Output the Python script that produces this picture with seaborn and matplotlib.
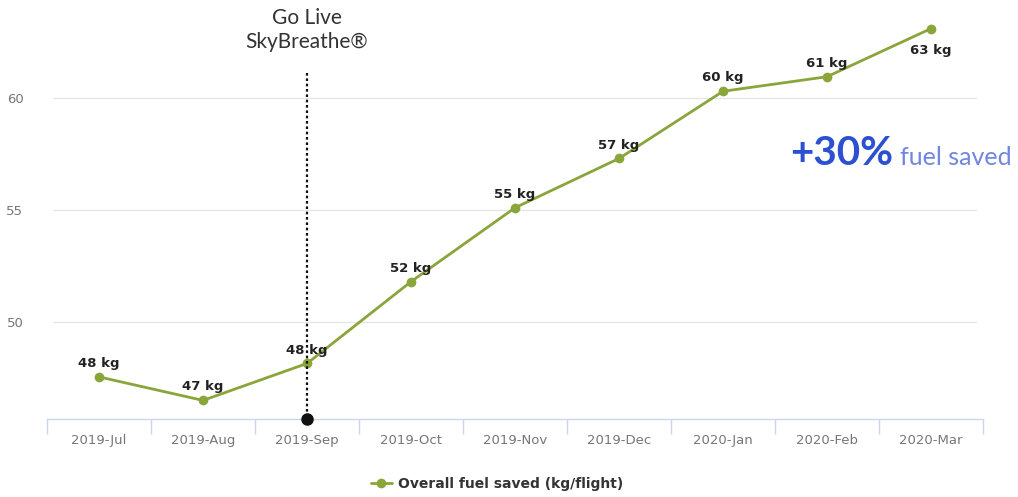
import matplotlib
matplotlib.use("Agg")
import matplotlib.pyplot as plt
import seaborn as sns
import pandas as pd
import numpy as np

months = ["2019-Jul", "2019-Aug", "2019-Sep", "2019-Oct", "2019-Nov",
          "2019-Dec", "2020-Jan", "2020-Feb", "2020-Mar"]
fuel_saved = [47.55, 46.5, 48.15, 51.8, 55.1, 57.3, 60.3, 60.95, 63.1]
point_labels = ["48 kg", "47 kg", "48 kg", "52 kg", "55 kg", "57 kg", "60 kg", "61 kg", "63 kg"]
y_ticks = [50, 55, 60]
series_name = "Overall fuel saved (kg/flight)"
golive_month = "2019-Sep"
golive_text = "Go Live\nSkyBreathe®"

sns.set_theme(style="white")
plt.rcParams['font.family'] = ['Lato', 'DejaVu Sans']

df = pd.DataFrame({"month": months, "value": fuel_saved})
df["pos"] = np.arange(len(months))

fig = plt.figure(figsize=(10.18, 4.97), dpi=100)
ax = fig.add_axes([47/1018, (497-419)/497, (983-47)/1018, 419/497])

green = "#8aa53a"
sns.lineplot(data=df, x="pos", y="value", ax=ax, color=green, linewidth=2,
             marker="o", markersize=7, markeredgewidth=0, label=series_name)

ax.set_xlim(-0.5, len(months) - 0.5)
ax.set_ylim(45.67, 64.375)

ax.set_yticks(y_ticks)
ax.set_yticklabels([str(t) for t in y_ticks], color="#777777", fontsize=9.5,
                   family=["DejaVu Sans"])
ax.tick_params(axis="y", length=0, pad=17)
for t in y_ticks:
    ax.axhline(t, color="#e6e6e6", linewidth=1, xmin=0.006, xmax=0.992, zorder=0)

ax.set_xticks(np.arange(len(months)))
ax.set_xticklabels(months, color="#777777", fontsize=9.5, family=["DejaVu Sans"])
ax.set_xticks(np.arange(-0.5, len(months)), minor=True)
ax.tick_params(axis="x", which="major", length=0, pad=11)
ax.tick_params(axis="x", which="minor", length=11, width=1, color="#ccd6eb", bottom=True)
ax.set_xlabel("")
ax.set_ylabel("")

for s in ["top", "right", "left"]:
    ax.spines[s].set_visible(False)
ax.spines["bottom"].set_color("#ccd6eb")
ax.spines["bottom"].set_linewidth(1)

# point labels
for i, (v, lab) in enumerate(zip(fuel_saved, point_labels)):
    if i == len(months) - 1:
        ax.annotate(lab, (i, v), xytext=(0, -11), textcoords="offset points",
                    ha="center", va="top", fontsize=9.5, fontweight="bold", color="#222222",
                    family=["DejaVu Sans"])
    else:
        ax.annotate(lab, (i, v), xytext=(0, 5), textcoords="offset points",
                    ha="center", va="bottom", fontsize=9.5, fontweight="bold", color="#222222",
                    family=["DejaVu Sans"])

# go live line
gx = months.index(golive_month)
ax.plot([gx, gx], [45.75, 61.2], color="#111111", linestyle=(0, (1.2, 1.2)), linewidth=1.6, zorder=5)
ax.plot([gx], [45.67], marker="o", color="#111111", markersize=8, clip_on=False, zorder=6)
ax.text(gx, 63.04, golive_text, ha="center", va="center", fontsize=15, color="#333333",
        linespacing=1.2)

# +30% annotation
fig.text(790/1018, 1 - 165/497, "+30%", ha="left", va="baseline", fontsize=29,
         fontweight="bold", color="#2b50d2")
fig.text(900/1018, 1 - 165/497, "fuel saved", ha="left", va="baseline", fontsize=18,
         color="#7086e0")

leg = ax.legend(loc="upper center", bbox_to_anchor=(0.481, -0.108), frameon=False,
                fontsize=10, handlelength=1.5, handletextpad=0.5)
for txt in leg.get_texts():
    txt.set_fontweight("bold")
    txt.set_color("#333333")
    txt.set_family(["DejaVu Sans"])

fig.savefig("out.png", dpi=100)
